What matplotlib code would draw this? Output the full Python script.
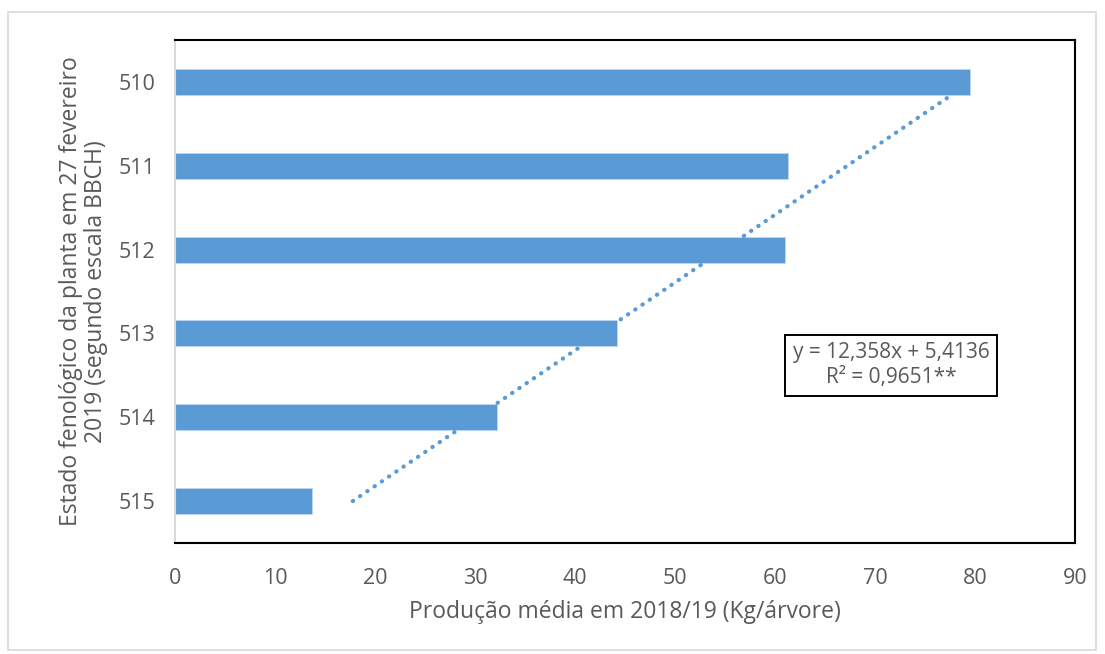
import numpy as np
import matplotlib.pyplot as plt
from matplotlib.patches import Rectangle

# Production per phenological stage (BBCH), top to bottom as shown
stages = ['510', '511', '512', '513', '514', '515']
production = [79.5, 61.3, 61.0, 44.2, 32.2, 13.7]

# Linear trend reported for the series (x = category index, 515 -> 1)
slope, intercept = 12.358, 5.4136
r2_label = 'R² = 0,9651**'
trend_idx = np.array([1.0, 5.85])

bar_color = '#5b9bd5'
text_color = '#595959'

plt.rcParams['font.family'] = ['Open Sans', 'DejaVu Sans']

fig = plt.figure(figsize=(11.05, 6.54), dpi=100)
ax = fig.add_axes([0.1584, 0.1697, 0.8145, 0.769])

ypos = np.arange(len(stages))
ax.barh(ypos, production, height=0.31, color=bar_color, edgecolor='#bdd7ee', linewidth=0.6)

# trendline: category index k sits at row position len-k
trend_vals = slope * trend_idx + intercept
ax.plot(trend_vals, len(stages) - trend_idx, color=bar_color, linestyle=(0, (0.1, 2.0)),
        linewidth=3, dash_capstyle='round', solid_capstyle='round')

ax.set_ylim(len(stages) - 0.5, -0.5)
ax.set_xlim(0, 90)
ax.set_xticks(np.arange(0, 91, 10))
ax.set_yticks(ypos)
ax.set_yticklabels(stages)
ax.tick_params(length=0, labelsize=15.5, colors=text_color)
ax.tick_params(axis='y', pad=14)
ax.tick_params(axis='x', pad=18)

for side in ['top', 'right', 'bottom']:
    ax.spines[side].set_color('black')
    ax.spines[side].set_linewidth(1.5)
ax.spines['left'].set_color('#d9d9d9')
ax.spines['left'].set_linewidth(1.5)

ax.set_xlabel('Produção média em 2018/19 (Kg/árvore)', fontsize=16.5, color=text_color, labelpad=8)
ax.set_ylabel('Estado fenológico da planta em 27 fevereiro\n2019 (segundo escala BBCH)',
              fontsize=16.5, color=text_color, labelpad=8, linespacing=1.05)

eq_text = 'y = {:.3f}x + {:.4f}\n{}'.format(slope, intercept, r2_label).replace('.', ',')
fig.text(0.8063, 0.4415, eq_text, ha='center', va='center', fontsize=15, color=text_color,
         linespacing=1.25,
         bbox=dict(boxstyle='square,pad=0.35', facecolor='white', edgecolor='black', linewidth=1.4))

# light frame around the chart area
fig.patches.append(Rectangle((0.0075, 0.006), 0.984, 0.976, transform=fig.transFigure,
                             fill=False, edgecolor='#d9d9d9', linewidth=1.2))

fig.savefig('out.png', dpi=100)
